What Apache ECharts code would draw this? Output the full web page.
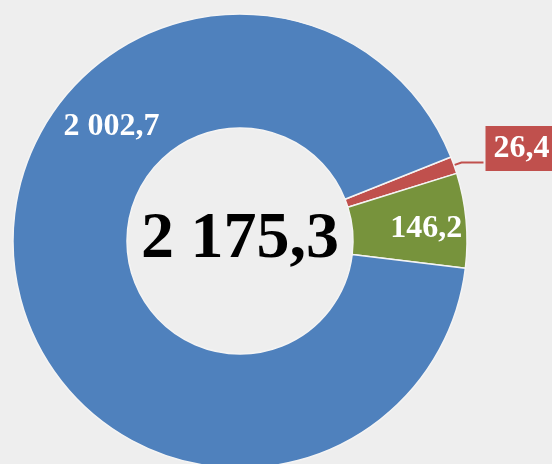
<!DOCTYPE html>
<html>
<head>
<meta charset="utf-8">
<script src="https://cdn.jsdelivr.net/npm/echarts@6/dist/echarts.min.js"></script>
<style>
html,body{margin:0;padding:0;background:#eeeeee;}
#chart{width:552px;height:464px;}
</style>
</head>
<body>
<div id="chart"></div>
<script>
// Data (clockwise order starting at the red slice)
const categories = ['Segment 3', 'Segment 2', 'Segment 1'];
const values = [26.4, 146.2, 2002.7];
const colors = ['#C0504D', '#77933C', '#4F81BD'];

function fmt(v) {
  const parts = v.toFixed(1).split('.');
  const intPart = parts[0].replace(/\B(?=(\d{3})+(?!\d))/g, ' ');
  return intPart + ',' + parts[1];
}
const total = values.reduce((a, b) => a + b, 0);

const FONT = '"Liberation Serif", "Times New Roman", serif';

const chart = echarts.init(document.getElementById('chart'), null, {renderer: 'canvas'});

const dataItems = categories.map((name, i) => {
  const item = {
    name: name,
    value: values[i],
    itemStyle: {color: colors[i]}
  };
  if (i === 0) {
    item.label = {
      position: 'outside',
      backgroundColor: colors[i],
      padding: [7, 8, 6, 8],
      color: '#ffffff'
    };
    item.labelLine = {show: true, lineStyle: {color: colors[i], width: 2}};
  } else {
    item.label = {position: 'inside'};
    item.labelLine = {show: false};
  }
  return item;
});

const layoutShift = {
  0: {dx: -3, dy: -14},
  1: {dx: 14, dy: 4},
  2: {dx: 43, dy: -137}
};

chart.setOption({
  backgroundColor: '#eeeeee',
  animation: false,
  graphic: [{
    type: 'text',
    x: 240,
    y: 240,
    z: 10,
    style: {
      text: fmt(total),
      font: 'bold 66px ' + FONT,
      fill: '#000000',
      textAlign: 'center',
      textVerticalAlign: 'middle',
      shadowColor: 'rgba(0,0,0,0.55)',
      shadowBlur: 4,
      shadowOffsetX: 3,
      shadowOffsetY: 3
    }
  }],
  series: [{
    type: 'pie',
    center: [240, 241],
    radius: [113, 227],
    startAngle: 21.7,
    clockwise: true,
    avoidLabelOverlap: false,
    itemStyle: {borderColor: '#f4f4f4', borderWidth: 1.5},
    label: {
      show: true,
      color: '#ffffff',
      fontFamily: FONT,
      fontWeight: 'bold',
      fontSize: 32,
      formatter: (p) => fmt(p.value)
    },
    labelLine: {length: 8, length2: 22, smooth: false},
    labelLayout: (params) => layoutShift[params.dataIndex],
    data: dataItems
  }]
});
</script>
</body>
</html>
